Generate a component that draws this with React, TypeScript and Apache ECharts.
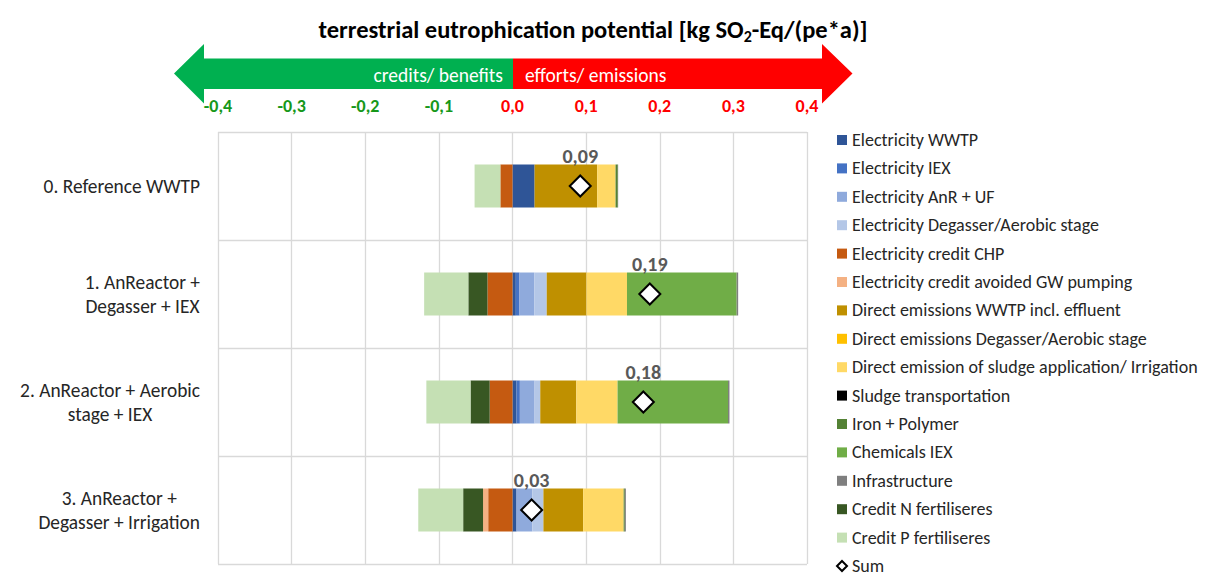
import React, { useEffect, useRef } from "react";
import * as echarts from "echarts";

const categories = [
  "0. Reference WWTP",
  "1. AnReactor +\nDegasser + IEX",
  "2. AnReactor + Aerobic\nstage + IEX",
  "3. AnReactor +\nDegasser + Irrigation",
];

const elecWWTP = [0.03, 0.0045, 0.0055, 0.0055];
const elecIEX = [0, 0.005, 0.0045, 0];
const elecAnR = [0, 0.02, 0.02, 0.0215];
const elecDegasser = [0, 0.017, 0.0077, 0.015];
const creditCHP = [-0.0165, -0.034, -0.031, -0.033];
const creditGW = [0, 0, 0, -0.007];
const directWWTP = [0.085, 0.054, 0.049, 0.054];
const directDegasser = [0, 0, 0, 0];
const sludgeApp = [0.025, 0.055, 0.056, 0.055];
const sludgeTransport = [0, 0, 0, 0];
const ironPolymer = [0.003, 0, 0, 0.0015];
const chemIEX = [0, 0.149, 0.15, 0];
const infrastructure = [0.0005, 0.002, 0.002, 0.0015];
const creditN = [0, -0.026, -0.026, -0.027];
const creditP = [-0.035, -0.06, -0.06, -0.061];

const xTicks = { min: -0.4, max: 0.4, interval: 0.1 };

const seriesDefs = [
  { name: "Electricity WWTP", data: elecWWTP, color: "#2F5597" },
  { name: "Electricity IEX", data: elecIEX, color: "#4472C4" },
  { name: "Electricity AnR + UF", data: elecAnR, color: "#8FAADC" },
  { name: "Electricity Degasser/Aerobic stage", data: elecDegasser, color: "#B4C7E7" },
  { name: "Electricity credit CHP", data: creditCHP, color: "#C55A11" },
  { name: "Electricity credit avoided GW pumping", data: creditGW, color: "#F4B183" },
  { name: "Direct emissions WWTP incl. effluent", data: directWWTP, color: "#BF9000" },
  { name: "Direct emissions Degasser/Aerobic stage", data: directDegasser, color: "#FFC000" },
  { name: "Direct emission of sludge application/ Irrigation", data: sludgeApp, color: "#FFD966" },
  { name: "Sludge transportation", data: sludgeTransport, color: "#000000" },
  { name: "Iron + Polymer", data: ironPolymer, color: "#548235" },
  { name: "Chemicals IEX", data: chemIEX, color: "#70AD47" },
  { name: "Infrastructure", data: infrastructure, color: "#7F7F7F" },
  { name: "Credit N fertiliseres", data: creditN, color: "#385723" },
  { name: "Credit P fertiliseres", data: creditP, color: "#C5E0B4" },
];

const FONT = "Carlito, Lato, 'Open Sans', sans-serif";

export default function App() {
  const ref = useRef<HTMLDivElement>(null);

  useEffect(() => {
    if (!ref.current) return;
    const chart = echarts.init(ref.current, undefined, { renderer: "svg" });

    const sums = categories.map((_, i) =>
      seriesDefs.reduce((acc, s) => acc + s.data[i], 0)
    );

    const fmt = (v: number) => {
      const x = Math.abs(v) < 1e-9 ? 0 : v;
      return x.toFixed(1).replace(".", ",");
    };

    const barSeries = seriesDefs.map((s) => ({
      name: s.name,
      type: "bar",
      stack: "total",
      barWidth: 43,
      itemStyle: { color: s.color },
      emphasis: { disabled: true },
      data: s.data,
    }));

    const option: any = {
      animation: false,
      textStyle: { fontFamily: FONT },
      grid: { left: 218, right: 402, top: 132, bottom: 9, containLabel: false },
      xAxis: {
        type: "value",
        position: "top",
        min: xTicks.min,
        max: xTicks.max,
        interval: xTicks.interval,
        axisLine: { show: false },
        axisTick: { show: false },
        splitLine: { show: true, lineStyle: { color: "#D9D9D9", width: 1.3 } },
        axisLabel: {
          margin: 17,
          formatter: (v: number) =>
            v < -1e-9 ? `{g|${fmt(v)}}` : `{r|${fmt(v)}}`,
          rich: {
            g: { color: "#16981A", fontSize: 18, fontWeight: "bold", fontFamily: FONT },
            r: { color: "#FF0000", fontSize: 18, fontWeight: "bold", fontFamily: FONT },
          },
        },
      },
      yAxis: {
        type: "category",
        inverse: true,
        data: categories,
        axisLine: { show: false },
        axisTick: { show: false },
        splitLine: { show: true, lineStyle: { color: "#D9D9D9", width: 1.3 } },
        axisLabel: {
          margin: 18,
          align: "right",
          formatter: (v: string) =>
            v
              .split("\n")
              .map((l) => `{c|${l}}`)
              .join("\n"),
          rich: {
            c: {
              align: "center",
              fontSize: 19.4,
              color: "#262626",
              fontFamily: FONT,
              lineHeight: 24,
            },
          },
        },
      },
      legend: {
        orient: "vertical",
        left: 831,
        top: 125,
        height: 480,
        itemWidth: 10,
        itemHeight: 10,
        itemGap: 8.4,
        selectedMode: false,
        textStyle: { fontSize: 18, color: "#262626", fontFamily: FONT, lineHeight: 20 },
        data: [
          ...seriesDefs.map((s) => ({ name: s.name, icon: "rect" })),
          { name: "Sum", icon: "diamond" },
        ],
      },
      graphic: [
        {
          type: "polygon",
          shape: {
            points: [
              [174, 73.5],
              [204, 44],
              [204, 58.5],
              [513, 58.5],
              [513, 89],
              [204, 89],
              [204, 103.5],
            ],
          },
          style: { fill: "#00B050" },
          silent: true,
        },
        {
          type: "polygon",
          shape: {
            points: [
              [852.5, 73.5],
              [822, 44],
              [822, 58.5],
              [513, 58.5],
              [513, 89],
              [822, 89],
              [822, 103.5],
            ],
          },
          style: { fill: "#FF0000" },
          silent: true,
        },
        {
          type: "text",
          x: 503,
          y: 75,
          style: {
            text: "credits/ benefits",
            fill: "#FFFFFF",
            fontSize: 19.5,
            fontFamily: FONT,
            align: "right",
            verticalAlign: "middle",
          },
          silent: true,
        },
        {
          type: "text",
          x: 525,
          y: 75,
          style: {
            text: "efforts/ emissions",
            fill: "#FFFFFF",
            fontSize: 19.5,
            fontFamily: FONT,
            align: "left",
            verticalAlign: "middle",
          },
          silent: true,
        },
        {
          type: "text",
          x: 593,
          y: 30,
          style: {
            text: "{a|terrestrial eutrophication potential [kg SO}{s|2}{a|-Eq/(pe*a)]}",
            align: "center",
            verticalAlign: "middle",
            rich: {
              a: { fontSize: 24.5, fontWeight: "bold", fill: "#000", fontFamily: FONT },
              s: {
                fontSize: 16,
                fontWeight: "bold",
                fill: "#000",
                fontFamily: FONT,
                padding: [12, 0, 0, 0],
              },
            },
          },
          silent: true,
        },
      ],
      series: [
        ...barSeries,
        {
          name: "Sum",
          type: "scatter",
          symbol: "diamond",
          symbolSize: 21,
          z: 10,
          itemStyle: { color: "#FFFFFF", borderColor: "#000000", borderWidth: 2, opacity: 1 },
          emphasis: { disabled: true },
          label: {
            show: true,
            position: "top",
            distance: 9,
            formatter: (p: any) => (p.value[0] as number).toFixed(2).replace(".", ","),
            fontSize: 20,
            fontWeight: "bold",
            color: "#595959",
            fontFamily: FONT,
          },
          data: sums.map((s, i) => [s, i]),
        },
      ],
    };

    chart.setOption(option);
    return () => chart.dispose();
  }, []);

  return (
    <div
      ref={ref}
      style={{ position: "fixed", left: 0, top: 0, width: 1209, height: 573, background: "#fff" }}
    />
  );
}
